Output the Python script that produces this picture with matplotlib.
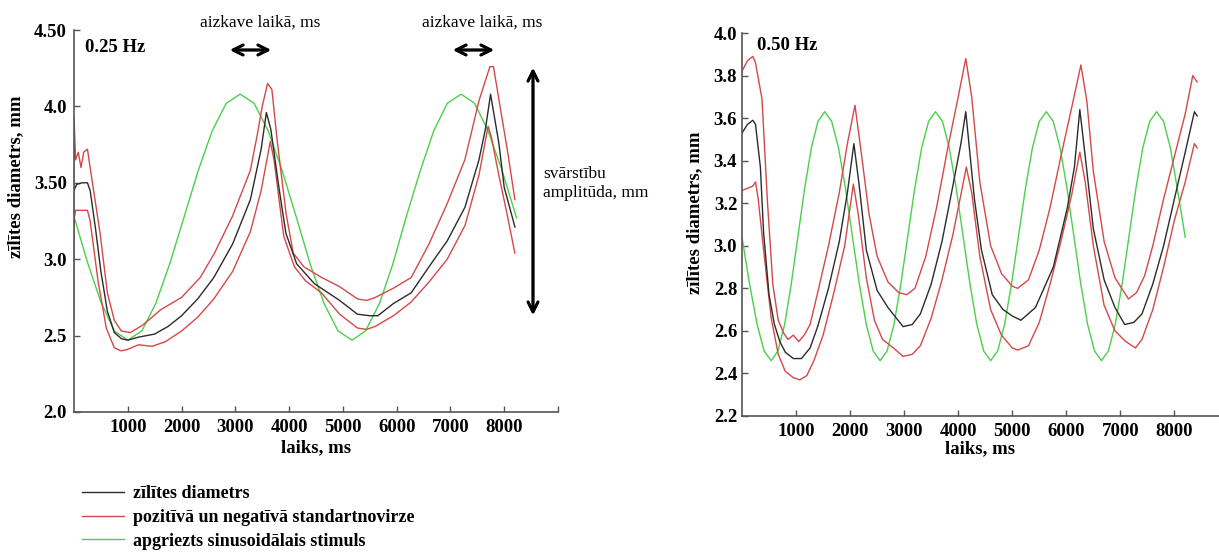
import matplotlib.pyplot as plt
from matplotlib.lines import Line2D

plt.rcParams['font.family'] = ['Liberation Serif', 'DejaVu Serif']

# ---- 0.25 Hz panel ----
l_mean_x = [0, 50, 150, 250, 300, 400, 500, 620, 750, 880, 1000, 1200, 1500, 1750, 2000, 2300,
            2600, 2950, 3280, 3480, 3577, 3660, 3810, 3940, 4140, 4470, 4940, 5270, 5500, 5650,
            5940, 6270, 6600, 6940, 7270, 7530, 7650, 7746, 7900, 8000, 8200]
l_mean_y = [3.45, 3.49, 3.50, 3.50, 3.45, 3.20, 2.92, 2.66, 2.52, 2.48, 2.47, 2.49, 2.51, 2.56, 2.63, 2.74,
            2.88, 3.10, 3.39, 3.72, 3.96, 3.85, 3.47, 3.17, 2.97, 2.84, 2.73, 2.64, 2.63, 2.63,
            2.71, 2.78, 2.95, 3.12, 3.34, 3.65, 3.85, 4.08, 3.76, 3.47, 3.21]

l_up_x = [0, 0, 30, 80, 130, 180, 250, 300, 485, 620, 750, 880, 1050, 1283, 1616, 2000, 2347,
          2613, 2945, 3278, 3411, 3500, 3600, 3680, 3777, 3943, 4076, 4275, 4608, 4940, 5272,
          5440, 5605, 5937, 6270, 6602, 6935, 7267, 7533, 7733, 7800, 7932, 8065, 8198]
l_up_y = [2.60, 3.93, 3.65, 3.70, 3.60, 3.70, 3.72, 3.60, 3.17, 2.78, 2.60, 2.53, 2.52, 2.57, 2.67, 2.75, 2.88,
          3.04, 3.28, 3.58, 3.82, 4.00, 4.15, 4.11, 3.78, 3.30, 3.04, 2.95, 2.88, 2.82, 2.74,
          2.73, 2.75, 2.81, 2.88, 3.10, 3.36, 3.65, 4.04, 4.26, 4.26, 3.98, 3.70, 3.39]

l_low_x = [0, 30, 250, 300, 450, 600, 750, 880, 1000, 1200, 1450, 1700, 2000, 2300, 2600, 2950,
           3280, 3480, 3650, 3720, 3900, 4100, 4300, 4600, 4940, 5270, 5440, 5600, 5940, 6270,
           6600, 6940, 7270, 7530, 7700, 7760, 7900, 8050, 8198]
l_low_y = [3.26, 3.32, 3.32, 3.25, 2.85, 2.55, 2.42, 2.40, 2.41, 2.44, 2.43, 2.46, 2.53, 2.62, 2.74, 2.92,
           3.18, 3.45, 3.77, 3.65, 3.15, 2.95, 2.86, 2.78, 2.64, 2.55, 2.54, 2.56, 2.63, 2.72,
           2.85, 3.00, 3.22, 3.55, 3.87, 3.80, 3.55, 3.30, 3.04]

l_stim_x = [0, 250, 500, 750, 1000, 1260, 1520, 1780, 2050, 2310, 2570, 2830, 3090, 3350, 3610, 3870,
            4130, 4390, 4650, 4910, 5170, 5420, 5680, 5930, 6180, 6440, 6690, 6940, 7200, 7450,
            7700, 7960, 8230]
l_stim_y = [3.28, 2.98, 2.72, 2.53, 2.47, 2.53, 2.71, 2.97, 3.28, 3.58, 3.84, 4.02, 4.08, 4.02, 3.84, 3.58,
            3.28, 2.97, 2.71, 2.53, 2.47, 2.53, 2.71, 2.97, 3.28, 3.58, 3.84, 4.02, 4.08, 4.02,
            3.84, 3.58, 3.27]

# ---- 0.50 Hz panel ----
r_mean_x = [0, 100, 200, 250, 340, 400, 500, 600, 700, 800, 950, 1100, 1260, 1400, 1600, 1800, 1950,
            2070, 2170, 2300, 2500, 2700, 2980, 3150, 3300, 3500, 3700, 3900, 4050, 4140, 4300,
            4430, 4630, 4830, 5000, 5160, 5430, 5760, 6020, 6150, 6250, 6350, 6500, 6700, 6900,
            7080, 7250, 7400, 7600, 7800, 8000, 8200, 8370, 8420]
r_mean_y = [3.53, 3.57, 3.59, 3.57, 3.37, 3.06, 2.77, 2.63, 2.55, 2.50, 2.47, 2.47, 2.52, 2.62, 2.80, 3.02, 3.25,
            3.48, 3.28, 2.98, 2.79, 2.71, 2.62, 2.63, 2.68, 2.82, 3.02, 3.28, 3.48, 3.63, 3.22,
            2.98, 2.77, 2.70, 2.67, 2.65, 2.71, 2.90, 3.18, 3.37, 3.64, 3.42, 3.08, 2.84, 2.71,
            2.63, 2.64, 2.68, 2.82, 3.00, 3.22, 3.44, 3.63, 3.61]

r_up_x = [0, 100, 200, 250, 370, 470, 570, 670, 770, 850, 950, 1050, 1150, 1260, 1400, 1600, 1800,
          1950, 2090, 2200, 2350, 2500, 2700, 2900, 3050, 3200, 3400, 3600, 3800, 4000, 4140,
          4250, 4400, 4600, 4800, 5000, 5100, 5300, 5500, 5700, 5900, 6100, 6270, 6380, 6500,
          6700, 6900, 7150, 7300, 7450, 7600, 7800, 8000, 8200, 8340, 8420]
r_up_y = [3.82, 3.87, 3.89, 3.86, 3.69, 3.21, 2.82, 2.65, 2.59, 2.56, 2.58, 2.55, 2.58, 2.63, 2.78, 3.00, 3.25,
          3.48, 3.66, 3.45, 3.15, 2.95, 2.83, 2.78, 2.77, 2.80, 2.95, 3.18, 3.45, 3.70, 3.88,
          3.70, 3.30, 3.00, 2.87, 2.81, 2.80, 2.84, 2.98, 3.18, 3.42, 3.65, 3.85, 3.68, 3.35,
          3.02, 2.85, 2.75, 2.78, 2.86, 3.00, 3.22, 3.42, 3.62, 3.80, 3.77]

r_low_x = [0, 100, 200, 250, 300, 400, 540, 670, 800, 950, 1070, 1200, 1330, 1500, 1700, 1900, 2060,
           2150, 2300, 2450, 2600, 2800, 2980, 3150, 3300, 3500, 3700, 3900, 4050, 4150, 4250,
           4400, 4600, 4800, 5000, 5100, 5300, 5500, 5700, 5900, 6100, 6250, 6350, 6500, 6700,
           6900, 7100, 7280, 7400, 7600, 7800, 8000, 8200, 8370, 8420]
r_low_y = [3.26, 3.27, 3.28, 3.30, 3.22, 2.98, 2.66, 2.49, 2.41, 2.38, 2.37, 2.39, 2.46, 2.58, 2.78, 3.00, 3.29,
           3.15, 2.85, 2.65, 2.56, 2.52, 2.48, 2.49, 2.53, 2.66, 2.84, 3.05, 3.24, 3.37, 3.25,
           2.95, 2.70, 2.58, 2.52, 2.51, 2.53, 2.64, 2.82, 3.02, 3.24, 3.44, 3.30, 3.00, 2.72,
           2.60, 2.55, 2.52, 2.56, 2.70, 2.90, 3.12, 3.30, 3.48, 3.46]

r_stim_x = [0, 140, 280, 410, 540, 664, 788, 911, 1035, 1159, 1283, 1406, 1530, 1658, 1786, 1914,
            2042, 2171, 2299, 2427, 2555, 2683, 2811, 2939, 3067, 3196, 3324, 3452, 3580, 3708,
            3835, 3963, 4090, 4218, 4345, 4473, 4600, 4729, 4858, 4986, 5115, 5244, 5373, 5501,
            5630, 5758, 5885, 6013, 6140, 6268, 6395, 6523, 6650, 6778, 6905, 7033, 7160, 7288,
            7415, 7543, 7670, 7798, 7925, 8053, 8200]
r_stim_y = [3.04, 2.82, 2.63, 2.505, 2.46, 2.505, 2.63, 2.82, 3.045, 3.27, 3.46, 3.585, 3.63, 3.585, 3.46, 3.27,
            3.045, 2.82, 2.63, 2.505, 2.46, 2.505, 2.63, 2.82, 3.045, 3.27, 3.46, 3.585, 3.63, 3.585,
            3.46, 3.27, 3.045, 2.82, 2.63, 2.505, 2.46, 2.505, 2.63, 2.82, 3.045, 3.27, 3.46, 3.585,
            3.63, 3.585, 3.46, 3.27, 3.045, 2.82, 2.63, 2.505, 2.46, 2.505, 2.63, 2.82, 3.045, 3.27,
            3.46, 3.585, 3.63, 3.585, 3.46, 3.27, 3.04]

l_yticks = [2.0, 2.5, 3.0, 3.5, 4.0, 4.5]
l_ylabels = ['2.0', '2.5', '3.0', '3.50', '4.0', '4.50']
l_xticks = [1000, 2000, 3000, 4000, 5000, 6000, 7000, 8000, 9000]
l_xlabels = ['1000', '2000', '3000', '4000', '5000', '6000', '7000', '8000', '']
r_yticks = [2.2, 2.4, 2.6, 2.8, 3.0, 3.2, 3.4, 3.6, 3.8, 4.0]
r_xticks = [1000, 2000, 3000, 4000, 5000, 6000, 7000, 8000]

legend_labels = ['zīlītes diametrs',
                 'pozitīvā un negatīvā standartnovirze',
                 'apgriezts sinusoidālais stimuls']

BLACK = '#2b2b2b'
RED = '#d44848'
GREEN = '#4ccf4c'
W, H = 1219, 555

fig = plt.figure(figsize=(W / 100, H / 100), dpi=100)
ax1 = fig.add_axes([74 / W, (H - 412) / H, 484 / W, 382 / H])
ax2 = fig.add_axes([742 / W, (H - 416) / H, 477 / W, 383 / H])

ax1.plot(l_stim_x, l_stim_y, color=GREEN, lw=1)
ax1.plot(l_up_x, l_up_y, color=RED, lw=1)
ax1.plot(l_low_x, l_low_y, color=RED, lw=1)
ax1.plot(l_mean_x, l_mean_y, color=BLACK, lw=1)

ax2.plot(r_stim_x, r_stim_y, color=GREEN, lw=1)
ax2.plot(r_up_x, r_up_y, color=RED, lw=1)
ax2.plot(r_low_x, r_low_y, color=RED, lw=1)
ax2.plot(r_mean_x, r_mean_y, color=BLACK, lw=1)

tick_font = dict(family='Liberation Serif', weight='bold', size=13.5)

ax1.set_xlim(0, 9000)
ax1.set_ylim(2.0, 4.5)
ax1.set_xticks(l_xticks, l_xlabels, **tick_font)
ax1.set_yticks(l_yticks, l_ylabels, **tick_font)

ax2.set_xlim(0, 8825)
ax2.set_ylim(2.2, 4.0)
ax2.set_xticks(r_xticks, [str(t) for t in r_xticks], **tick_font)
ax2.set_yticks(r_yticks, ['%.1f' % t for t in r_yticks], **tick_font)

for ax in (ax1, ax2):
    ax.spines['top'].set_visible(False)
    ax.spines['right'].set_visible(False)
    for s in ('left', 'bottom'):
        ax.spines[s].set_color('#555555')
        ax.spines[s].set_linewidth(1.2)
    ax.tick_params(direction='in', length=4, width=1, color='#555555', pad=5)
    ax.set_xlabel('laiks, ms', **tick_font)
    ax.set_ylabel('zīlītes diametrs, mm', **tick_font)

ax1.yaxis.set_label_coords(-0.103, 0.615)
ax1.xaxis.set_label_coords(0.5, -0.07)
ax2.yaxis.set_label_coords(-0.082, 0.53)
ax2.xaxis.set_label_coords(0.5, -0.062)
ax2.tick_params(axis='y', pad=3.5)

fig.text(85 / W, 1 - 47 / H, '0.25 Hz', ha='left', va='center', **tick_font)
fig.text(757 / W, 1 - 45 / H, '0.50 Hz', ha='left', va='center', **tick_font)

# annotations on the left panel
note_font = dict(family='Liberation Serif', size=12.5)
fig.text(260 / W, 1 - 23 / H, 'aizkave laikā, ms', ha='center', va='center', **note_font)
fig.text(482 / W, 1 - 23 / H, 'aizkave laikā, ms', ha='center', va='center', **note_font)
arrow = dict(arrowstyle='<->', lw=2, color='black', mutation_scale=18, shrinkA=0, shrinkB=0)
for x0, x1 in ((230, 271), (453, 494)):
    fig.add_artist(plt.annotate('', xy=(x1 / W, 1 - 50 / H), xytext=(x0 / W, 1 - 50 / H),
                                xycoords='figure fraction', arrowprops=arrow))
fig.add_artist(plt.annotate('', xy=(533 / W, 1 - 315 / H), xytext=(533 / W, 1 - 68 / H),
                            xycoords='figure fraction', arrowprops=arrow))
fig.text(543 / W, 1 - 184 / H, 'svārstību\namplitūda, mm', ha='left', va='center',
         linespacing=1.25, **note_font)

# legend
handles = [Line2D([], [], color=BLACK, lw=1),
           Line2D([], [], color=RED, lw=1),
           Line2D([], [], color=GREEN, lw=1)]
fig.legend(handles, legend_labels, loc='upper left', bbox_to_anchor=(82 / W, 1 - 485 / H),
           frameon=False, borderpad=0, borderaxespad=0, handlelength=2.3, handletextpad=0.5,
           labelspacing=0.38, prop=dict(family='Liberation Serif', weight='bold', size=13))

fig.savefig('out.png', dpi=100)
